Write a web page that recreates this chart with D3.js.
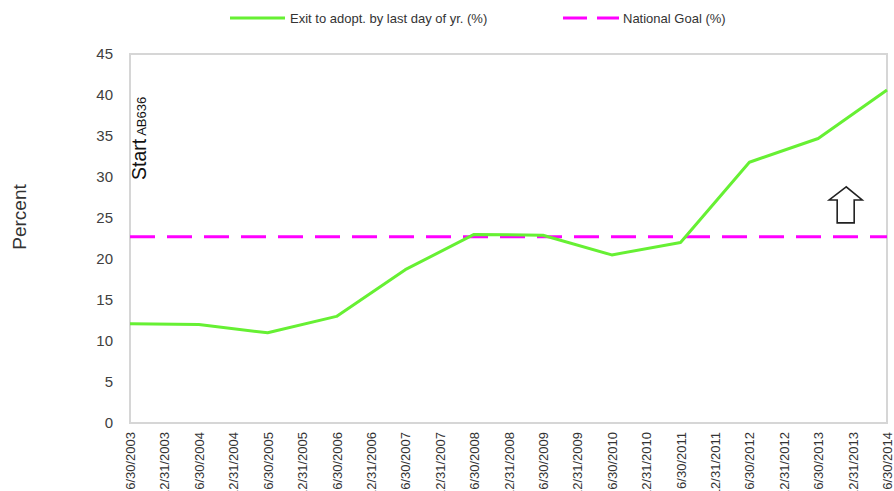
<!DOCTYPE html>
<html>
<head>
<meta charset="utf-8">
<script src="https://cdn.jsdelivr.net/npm/d3@7"></script>
<style>
  html, body { margin: 0; padding: 0; background: #fff; }
  svg { display: block; font-family: Arial, "Liberation Sans", sans-serif; }
</style>
</head>
<body>
<svg id="chart" width="894" height="491"></svg>
<script>
// Reporting dates (June 30 and December 31 of each year)
const categories = [
  "6/30/2003", "12/31/2003", "6/30/2004", "12/31/2004", "6/30/2005", "12/31/2005",
  "6/30/2006", "12/31/2006", "6/30/2007", "12/31/2007", "6/30/2008", "12/31/2008",
  "6/30/2009", "12/31/2009", "6/30/2010", "12/31/2010", "6/30/2011", "12/31/2011",
  "6/30/2012", "12/31/2012", "6/30/2013", "12/31/2013", "6/30/2014"
];

// Exit to adoption by last day of year (%), measured each June 30
const adoptDates = [
  "6/30/2003", "6/30/2004", "6/30/2005", "6/30/2006", "6/30/2007", "6/30/2008",
  "6/30/2009", "6/30/2010", "6/30/2011", "6/30/2012", "6/30/2013", "6/30/2014"
];
const adoptPct = [12.1, 12.0, 11.0, 13.0, 18.7, 23.0, 22.9, 20.5, 22.0, 31.8, 34.7, 40.6];

// National goal (%)
const nationalGoal = 22.7;

const yTicks = [0, 5, 10, 15, 20, 25, 30, 35, 40, 45];

const seriesNames = ["Exit to adopt. by last day of yr. (%)", "National Goal (%)"];
const seriesColors = ["#66f033", "#ff00ff"];

const svg = d3.select("#chart");

const plot = { left: 130, right: 887, top: 54, bottom: 423 };

const x = d3.scalePoint().domain(categories).range([plot.left, plot.right]).padding(0);
const y = d3.scaleLinear().domain([0, 45]).range([plot.bottom, plot.top]);

// Plot frame
svg.append("rect")
  .attr("x", plot.left).attr("y", plot.top)
  .attr("width", plot.right - plot.left).attr("height", plot.bottom - plot.top)
  .attr("fill", "none").attr("stroke", "#d6d6d6").attr("stroke-width", 2);

// Y axis labels
const yAxis = d3.axisLeft(y).tickValues(yTicks).tickSize(0).tickPadding(17);
const yg = svg.append("g").attr("transform", `translate(${plot.left},0)`).call(yAxis);
yg.select(".domain").remove();
yg.selectAll("text").attr("fill", "#404040").style("font-size", "15px")
  .style("font-family", "Arial, 'Liberation Sans', sans-serif");

// X axis labels (rotated, running past the bottom edge)
const xAxis = d3.axisBottom(x).tickSize(0).tickPadding(0);
const xg = svg.append("g").attr("transform", `translate(0,${plot.bottom})`).call(xAxis);
xg.select(".domain").remove();
xg.selectAll("text")
  .attr("fill", "#333")
  .style("font-size", "13px")
  .style("font-family", "Arial, 'Liberation Sans', sans-serif")
  .attr("text-anchor", "end")
  .attr("dy", "0.35em")
  .attr("transform", "translate(0,9) rotate(-90)")
  .attr("x", 0).attr("y", 0);

// Y axis title
svg.append("text")
  .attr("transform", "translate(26,217) rotate(-90)")
  .attr("text-anchor", "middle")
  .attr("fill", "#333")
  .style("font-size", "19px")
  .text("Percent");

// National goal line
svg.append("line")
  .attr("x1", plot.left).attr("x2", plot.right)
  .attr("y1", y(nationalGoal)).attr("y2", y(nationalGoal))
  .attr("stroke", seriesColors[1]).attr("stroke-width", 3)
  .attr("stroke-dasharray", "25,12");

// Adoption series line
const pts = adoptDates.map((d, i) => ({ date: d, value: adoptPct[i] }));
const line = d3.line().x(d => x(d.date)).y(d => y(d.value));
svg.append("path")
  .datum(pts)
  .attr("d", line)
  .attr("fill", "none")
  .attr("stroke", seriesColors[0])
  .attr("stroke-width", 3)
  .attr("stroke-linejoin", "round");

// "Start AB636" annotation
const startText = svg.append("text")
  .attr("transform", `translate(${x(categories[0]) + 16},180) rotate(-90)`)
  .attr("fill", "#111");
startText.append("tspan").style("font-size", "19.5px").text("Start");
startText.append("tspan").style("font-size", "13px").attr("dx", 3).text("AB636");

// Upward arrow annotation
const ax = x("6/30/2013") + 28;
const aTop = y(28.8), aMid = y(27.2), aBot = y(24.4);
svg.append("path")
  .attr("d", `M${ax},${aTop} L${ax - 17},${aMid} L${ax - 9},${aMid} L${ax - 9},${aBot} L${ax + 8},${aBot} L${ax + 8},${aMid} L${ax + 16},${aMid} Z`)
  .attr("fill", "#fff").attr("stroke", "#222").attr("stroke-width", 1.6)
  .attr("stroke-linejoin", "miter");

// Legend
const lg = svg.append("g").style("font-size", "13px").attr("fill", "#333");
lg.append("line").attr("x1", 230).attr("x2", 285).attr("y1", 18).attr("y2", 18)
  .attr("stroke", seriesColors[0]).attr("stroke-width", 3);
lg.append("text").attr("x", 290).attr("y", 22.5).text(seriesNames[0]);
lg.append("line").attr("x1", 563).attr("x2", 619).attr("y1", 18).attr("y2", 18)
  .attr("stroke", seriesColors[1]).attr("stroke-width", 3)
  .attr("stroke-dasharray", "24,10");
lg.append("text").attr("x", 623).attr("y", 22.5).text(seriesNames[1]);
</script>
</body>
</html>
